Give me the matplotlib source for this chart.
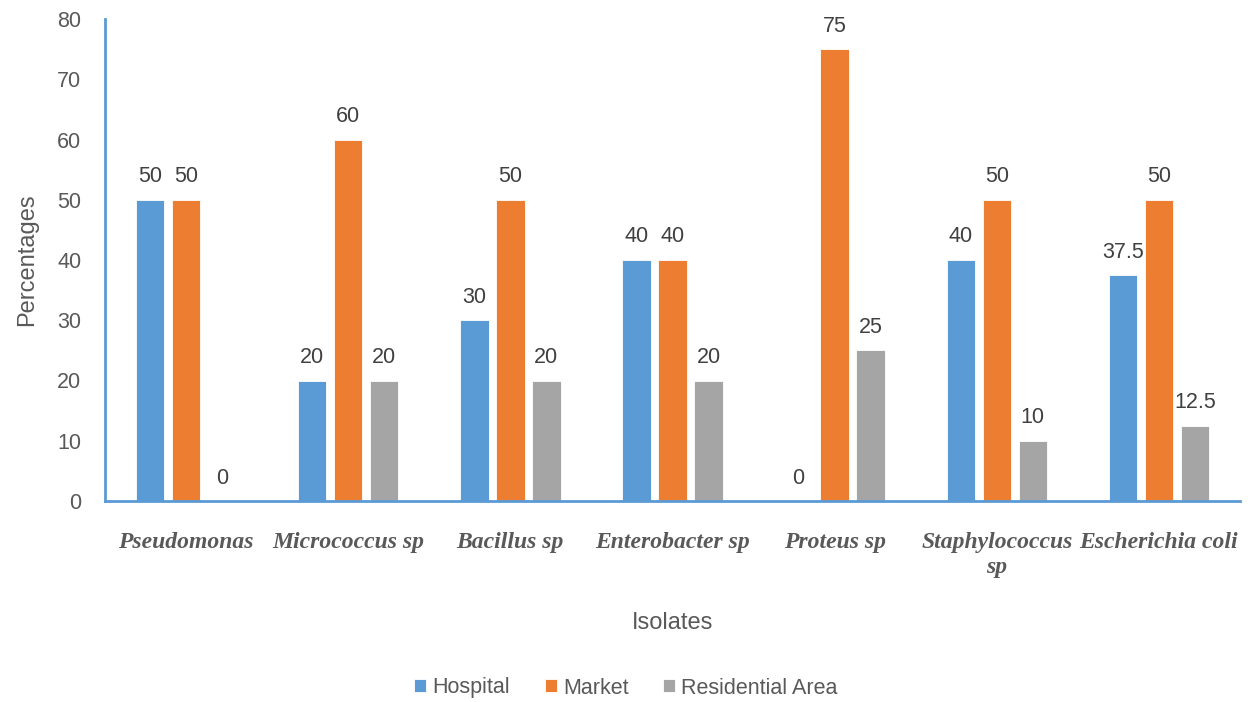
import matplotlib
matplotlib.use("Agg")
import matplotlib.pyplot as plt
import numpy as np

categories = ["Pseudomonas", "Micrococcus sp", "Bacillus sp", "Enterobacter sp",
              "Proteus sp", "Staphylococcus\nsp", "Escherichia coli"]
hospital = [50, 20, 30, 40, 0, 40, 37.5]
market = [50, 60, 50, 40, 75, 50, 50]
residential = [0, 20, 20, 20, 25, 10, 12.5]
series_names = ["Hospital", "Market", "Residential Area"]
colors = ["#5B9BD5", "#ED7D31", "#A5A5A5"]
yticks = [0, 10, 20, 30, 40, 50, 60, 70, 80]

text_color = "#595959"
sans = ["Liberation Sans", "DejaVu Sans"]

fig = plt.figure(figsize=(12.54, 7.02), dpi=100)
ax = fig.add_axes([105 / 1254, 1 - 501 / 702, (1240 - 105) / 1254, (501 - 19) / 702])

x = np.arange(len(categories))
width = 0.175
step = 0.222
for i, (vals, name, c) in enumerate(zip([hospital, market, residential], series_names, colors)):
    pos = x + (i - 1) * step
    bars = ax.bar(pos, vals, width=width, color=c, label=name, edgecolor="white", linewidth=0.6)
    for b, v in zip(bars, vals):
        lbl = f"{v:g}"
        ax.annotate(lbl, (b.get_x() + b.get_width() / 2, v), xytext=(0, 9),
                    textcoords="offset points", ha="center", va="bottom",
                    fontsize=15.5, color="#404040", family=sans)

ax.set_xlim(-0.5, len(categories) - 0.5)
ax.set_ylim(0, 80)
ax.set_yticks(yticks)
ax.set_yticklabels([str(t) for t in yticks], fontsize=15.5, color=text_color, family=sans)
ax.set_xticks(x)
ax.set_xticklabels(categories, fontsize=17, color=text_color, family="Liberation Serif",
                   fontweight="bold", fontstyle="italic", va="top", linespacing=1.3)
ax.tick_params(axis="both", length=0)
ax.tick_params(axis="x", pad=22)
ax.tick_params(axis="y", pad=17)

for s in ["top", "right"]:
    ax.spines[s].set_visible(False)
for s in ["left", "bottom"]:
    ax.spines[s].set_color("#5B9BD5")
    ax.spines[s].set_linewidth(2)

ax.set_ylabel("Percentages", fontsize=17, color=text_color, family=sans, labelpad=14)
ax.set_xlabel("Isolates", fontsize=17, color=text_color, family=sans, labelpad=24)

fig.legend(loc="center", bbox_to_anchor=(626 / 1254, 1 - 688 / 702), ncol=3, frameon=False,
           prop={"family": sans, "size": 15.5}, labelcolor=text_color,
           handlelength=0.55, handleheight=0.55, handletextpad=0.3, columnspacing=1.6)

fig.savefig("out.png", dpi=100)
